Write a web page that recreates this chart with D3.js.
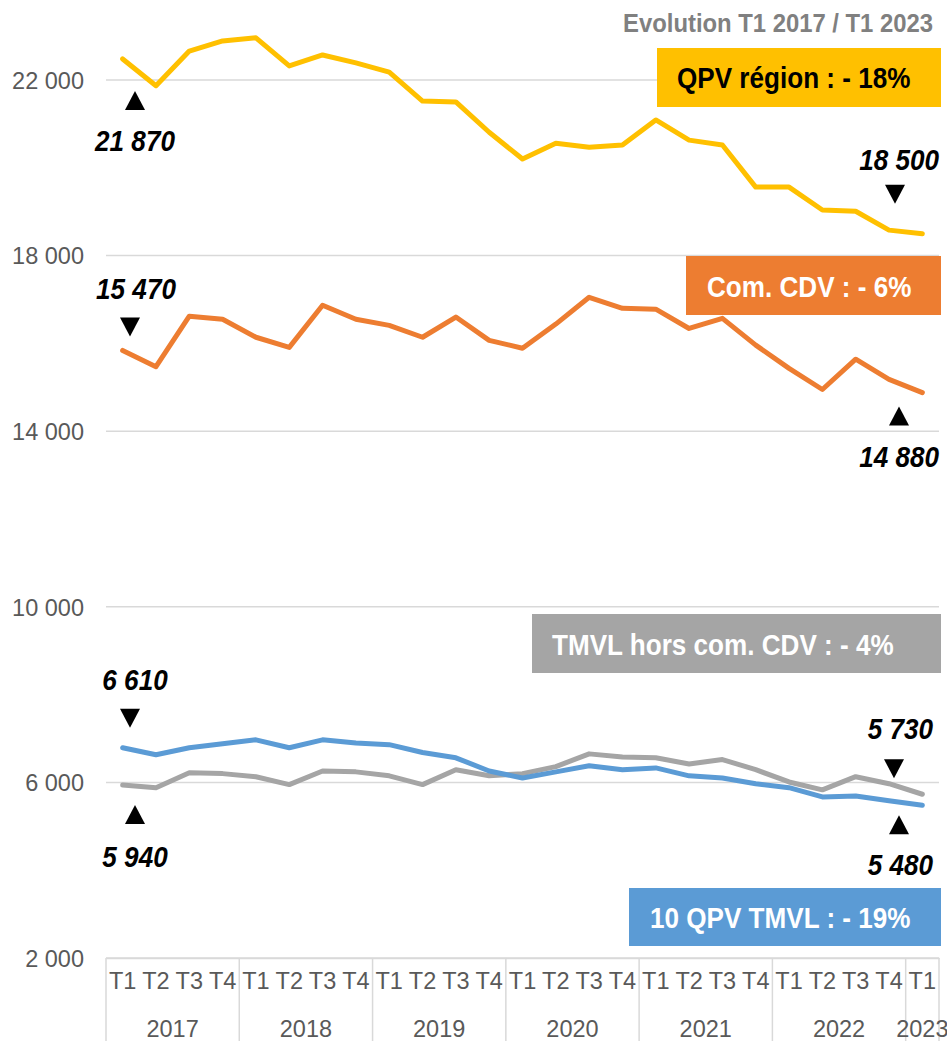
<!DOCTYPE html>
<html lang="fr">
<head>
<meta charset="UTF-8">
<script src="https://cdn.jsdelivr.net/npm/d3@7"></script>
<style>
  body { margin: 0; padding: 0; background: #fff; overflow: hidden; }
  svg { display: block; }
  .narrow { font-family: "Liberation Sans Narrow", "Arial Narrow", "Liberation Sans", Arial, sans-serif; font-weight: bold; }
  .axis text { font-family: "Liberation Sans", Arial, sans-serif; fill: #595959; }
</style>
</head>
<body>
<script>
  // quarters and years (x axis)
  const quarters = ['T1','T2','T3','T4','T1','T2','T3','T4','T1','T2','T3','T4',
    'T1','T2','T3','T4','T1','T2','T3','T4','T1','T2','T3','T4','T1'];
  const years = ['2017','2018','2019','2020','2021','2022','2023'];

  // series values
  const qpvRegion = [22480, 21870, 22660, 22890, 22960, 22320, 22570, 22390, 22180, 21520, 21500, 20810,
    20200, 20560, 20470, 20520, 21090, 20630, 20520, 19560, 19560, 19040, 19010, 18580, 18500];
  const comCdv = [15840, 15470, 16620, 16550, 16140, 15910, 16870, 16550, 16410, 16140, 16600, 16070,
    15890, 16440, 17050, 16800, 16780, 16340, 16570, 15960, 15430, 14950, 15640, 15180, 14880];
  const tmvlHorsCdv = [5940, 5880, 6220, 6200, 6130, 5950, 6260, 6240, 6150, 5950, 6290, 6150,
    6200, 6360, 6650, 6580, 6560, 6420, 6520, 6290, 6010, 5830, 6130, 5970, 5730];
  const qpvTmvl = [6790, 6630, 6790, 6880, 6970, 6790, 6970, 6900, 6860, 6680, 6560, 6260,
    6100, 6240, 6380, 6290, 6330, 6150, 6100, 5970, 5880, 5670, 5690, 5580, 5480];

  const yTicks = [2000, 6000, 10000, 14000, 18000, 22000];

  const seriesNames = ['QPV région : - 18%', 'Com. CDV : - 6%', 'TMVL hors com. CDV : - 4%', '10 QPV TMVL : - 19%'];
  const seriesValues = [qpvRegion, comCdv, tmvlHorsCdv, qpvTmvl];
  const seriesColors = ['#FFC000', '#ED7D31', '#A5A5A5', '#5B9BD5'];

  // start / end labels
  const labelTexts = [
    ['21 870', '18 500'],
    ['15 470', '14 880'],
    ['5 940', '5 730'],
    ['6 610', '5 480']
  ];

  const W = 947, H = 1041;
  const mLeft = 106, mRight = 939, mTop = 80, mBottom = 958;
  const squeeze = 0.9; // no narrow face installed, so squeeze the bold text a bit

  const svg = d3.select('body').append('svg')
    .attr('width', W)
    .attr('height', H);

  const x = d3.scaleBand()
    .domain(d3.range(quarters.length))
    .range([mLeft, mRight]);

  const y = d3.scaleLinear()
    .domain([2000, 22000])
    .range([mBottom, mTop]);

  const fmt = v => d3.format(',')(v).replace(/,/g, ' ');

  function narrowText(px, py, size, fill, anchor, str, italic) {
    return svg.append('text')
      .attr('class', 'narrow')
      .attr('transform', `translate(${px},${py}) scale(${squeeze},1)`)
      .attr('text-anchor', anchor)
      .attr('font-size', size)
      .attr('font-style', italic ? 'italic' : 'normal')
      .attr('fill', fill)
      .text(str);
  }

  // gridlines
  svg.append('g')
    .selectAll('line')
    .data(yTicks)
    .enter().append('line')
    .attr('x1', mLeft).attr('x2', mRight)
    .attr('y1', d => y(d)).attr('y2', d => y(d))
    .attr('stroke', '#d9d9d9')
    .attr('stroke-width', 1.5);

  // y axis labels
  const yAxis = svg.append('g')
    .attr('class', 'axis')
    .attr('transform', `translate(${mLeft - 22},0)`)
    .call(d3.axisLeft(y).tickValues(yTicks).tickFormat(fmt).tickSize(0).tickPadding(0));
  yAxis.select('.domain').remove();
  yAxis.selectAll('text').attr('font-size', 23.5).attr('dy', '0.35em');

  // x axis: quarters
  const xAxis = svg.append('g')
    .attr('class', 'axis')
    .attr('transform', `translate(0,${mBottom})`)
    .call(d3.axisBottom(x).tickFormat(i => quarters[i]).tickSize(0).tickPadding(14));
  xAxis.select('.domain').attr('stroke', '#d9d9d9').attr('stroke-width', 1.5);
  xAxis.selectAll('text').attr('font-size', 23.5);

  // year groups
  const yearGroups = years.map((yr, k) => {
    const start = k * 4;
    const end = Math.min(start + 4, quarters.length);
    return { yr, start, end };
  });

  svg.append('g')
    .selectAll('line')
    .data(yearGroups.map(g => g.start).concat([quarters.length]))
    .enter().append('line')
    .attr('x1', i => i < quarters.length ? x(i) : mRight)
    .attr('x2', i => i < quarters.length ? x(i) : mRight)
    .attr('y1', mBottom).attr('y2', H)
    .attr('stroke', '#d9d9d9')
    .attr('stroke-width', 1.5);

  svg.append('g')
    .attr('class', 'axis')
    .selectAll('text')
    .data(yearGroups)
    .enter().append('text')
    .attr('x', g => (x(g.start) + x(g.end - 1) + x.bandwidth()) / 2)
    .attr('y', 1037)
    .attr('text-anchor', 'middle')
    .attr('font-size', 23.5)
    .text(g => g.yr);

  // lines
  const line = d3.line()
    .x((d, i) => x(i) + x.bandwidth() / 2)
    .y(d => y(d));

  svg.append('g')
    .selectAll('path')
    .data(seriesValues)
    .enter().append('path')
    .attr('d', line)
    .attr('fill', 'none')
    .attr('stroke', (d, i) => seriesColors[i])
    .attr('stroke-width', 5)
    .attr('stroke-linejoin', 'round')
    .attr('stroke-linecap', 'round');

  // title
  narrowText(933, 32, 26.5, '#808080', 'end', 'Evolution T1 2017 / T1 2023', false);

  // series boxes
  const boxes = [
    { x: 657, y: 48, h: 59, tx: 677, ty: 88, fill: '#000' },
    { x: 686, y: 256, h: 59, tx: 707, ty: 297, fill: '#fff' },
    { x: 532, y: 614, h: 59, tx: 552, ty: 655, fill: '#fff' },
    { x: 629, y: 888, h: 58, tx: 650, ty: 928, fill: '#fff' }
  ];
  boxes.forEach((b, i) => {
    svg.append('rect')
      .attr('x', b.x).attr('y', b.y)
      .attr('width', 941 - b.x).attr('height', b.h)
      .attr('fill', seriesColors[i]);
    narrowText(b.tx, b.ty, 29, b.fill, 'start', seriesNames[i], false);
  });

  // start / end annotations: triangle + italic value
  // dir: 'up' = triangle pointing up, text below; 'down' = triangle pointing down, text above
  const annoLayout = [
    [{ dir: 'up', tri: 32, txt: 92, tx: 135, anchor: 'middle' }, { dir: 'down', tri: -30, txt: -64, tx: 939, anchor: 'end' }],
    [{ dir: 'down', tri: -14, txt: -51, tx: 136, anchor: 'middle' }, { dir: 'up', tri: 14, txt: 74, tx: 939, anchor: 'end' }],
    [{ dir: 'up', tri: 20, txt: 82, tx: 135, anchor: 'middle' }, { dir: 'down', tri: -16, txt: -55, tx: 933, anchor: 'end' }],
    [{ dir: 'down', tri: -20, txt: -58, tx: 135, anchor: 'middle' }, { dir: 'up', tri: 10, txt: 70, tx: 933, anchor: 'end' }]
  ];
  const triX = [[135, 895], [130, 899], [135, 894], [130, 899]];

  seriesValues.forEach((vals, s) => {
    [0, vals.length - 1].forEach((idx, k) => {
      const a = annoLayout[s][k];
      const py = y(vals[idx]);
      const cx = triX[s][k];
      const ty = py + a.tri;
      const tw = 10, th = 19;
      const pts = a.dir === 'up'
        ? [[cx - tw, ty + th], [cx + tw, ty + th], [cx, ty]]
        : [[cx - tw, ty - th], [cx + tw, ty - th], [cx, ty]];
      svg.append('path')
        .attr('d', d3.line()(pts) + 'Z')
        .attr('fill', '#000');
      narrowText(a.tx, py + a.txt, 29, '#000', a.anchor, labelTexts[s][k], true);
    });
  });
</script>
</body>
</html>
